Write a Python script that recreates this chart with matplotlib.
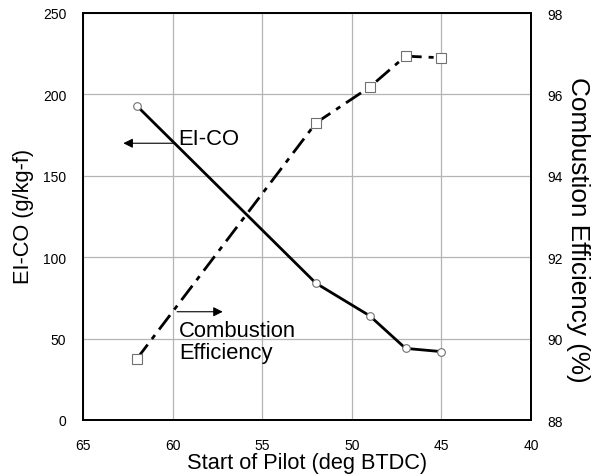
import matplotlib
matplotlib.use("Agg")
import matplotlib.pyplot as plt

plt.rcParams['font.family'] = ['Liberation Sans', 'DejaVu Sans']

pilot_start = [62, 52, 49, 47, 45]
ei_co = [193, 84, 64, 44, 42]
comb_eff = [89.5, 95.3, 96.18, 96.94, 96.9]

x_ticks = [65, 60, 55, 50, 45, 40]
left_ticks = [0, 50, 100, 150, 200, 250]
right_ticks = [88, 90, 92, 94, 96, 98]

fig = plt.figure(figsize=(5.99, 4.77), dpi=100)
ax = fig.add_axes([83/599, 1 - 421/477, 448/599, 407/477])
ax2 = ax.twinx()

ax.set_xlim(65, 40)
ax.set_ylim(0, 250)
ax2.set_ylim(88, 98)
ax.set_xticks(x_ticks)
ax.set_yticks(left_ticks)
ax2.set_yticks(right_ticks)

ax.grid(True, color='#b4b4b4', linewidth=0.9)
ax.set_axisbelow(True)

ax.plot(pilot_start, ei_co, color='black', linewidth=2.0, zorder=3)
ax.plot(pilot_start, ei_co, linestyle='none', marker='o', markersize=5.5,
        markerfacecolor='white', markeredgecolor='#707070', markeredgewidth=0.8, zorder=4)

ln, = ax2.plot(pilot_start, comb_eff, color='black', linewidth=2.0, zorder=3)
ln.set_dashes([6.5, 2.5, 1.8, 2.5])
ax2.plot(pilot_start, comb_eff, linestyle='none', marker='s', markersize=6.5,
         markerfacecolor='white', markeredgecolor='#707070', markeredgewidth=0.8, zorder=4)

for a in (ax, ax2):
    for s in a.spines.values():
        s.set_linewidth(1.3)
        s.set_color('black')
    a.tick_params(length=0, labelsize=10)
ax.tick_params(axis='y', pad=12)
ax.tick_params(axis='x', pad=13)
ax2.tick_params(axis='y', pad=12)

ax.set_xlabel('Start of Pilot (deg BTDC)', fontsize=15.7, labelpad=0)
ax.set_ylabel('EI-CO (g/kg-f)', fontsize=15.7, va='center', ha='center')
ax.yaxis.set_label_coords(-0.133, 0.502)
ax2.set_ylabel('Combustion Efficiency (%)', fontsize=18.8, rotation=270,
               va='center', ha='center')
ax2.yaxis.set_label_coords(1.105, 0.469)

# EI-CO label with arrow pointing to the left axis
ax.text(59.7, 173, 'EI-CO', fontsize=15.8, va='center', ha='left', zorder=5)
ax.annotate('', xy=(62.75, 170), xytext=(59.85, 170),
            arrowprops=dict(arrowstyle='-|>', color='black', lw=0.8,
                            mutation_scale=14, shrinkA=0, shrinkB=0), zorder=5)

# Combustion efficiency label with arrow pointing to the right axis
ax.text(59.65, 48, 'Combustion\nEfficiency', fontsize=15.8, va='center', ha='left',
        linespacing=1.05, zorder=5)
ax.annotate('', xy=(57.2, 66.5), xytext=(59.75, 66.5),
            arrowprops=dict(arrowstyle='-|>', color='black', lw=0.8,
                            mutation_scale=14, shrinkA=0, shrinkB=0), zorder=5)

fig.savefig('out.png', dpi=100)
